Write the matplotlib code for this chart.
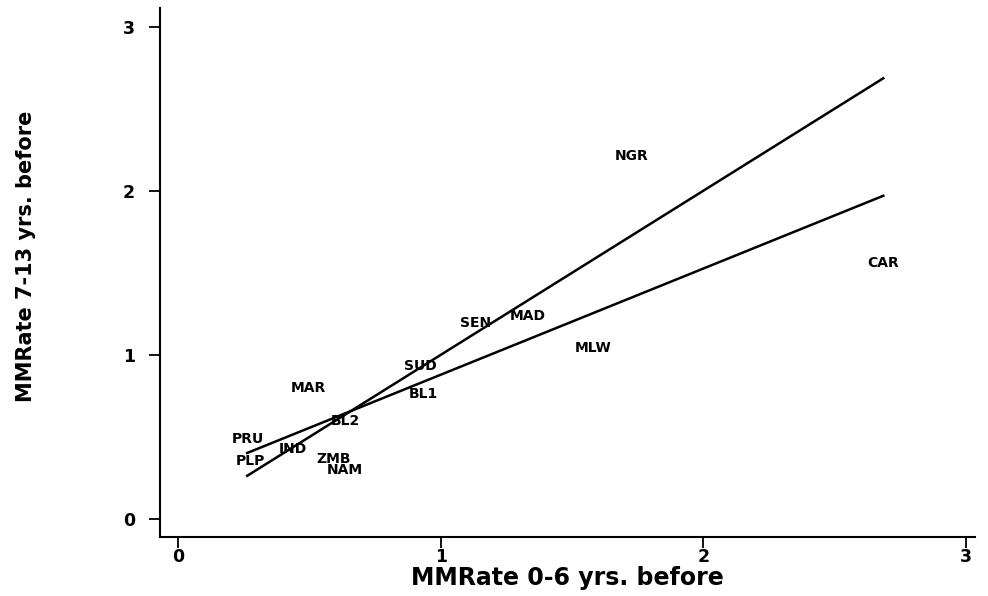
import numpy as np
import matplotlib
matplotlib.use("Agg")
import matplotlib.pyplot as plt

# Data: country codes, MMRate 0-6 yrs before (x), MMRate 7-13 yrs before (y)
countries = ["NGR", "CAR", "MLW", "MAD", "SEN", "SUD", "BL1", "MAR",
             "BL2", "PRU", "IND", "PLP", "ZMB", "NAM"]
mm_0_6 = [1.726, 2.686, 1.581, 1.333, 1.131, 0.922, 0.933, 0.495,
          0.636, 0.267, 0.438, 0.274, 0.594, 0.636]
mm_7_13 = [2.213, 1.561, 1.043, 1.238, 1.195, 0.933, 0.762, 0.799,
           0.598, 0.488, 0.427, 0.354, 0.366, 0.299]
# regression line
fit_intercept = 0.232
fit_slope = 0.647
x_ticks = [0, 1, 2, 3]
y_ticks = [0, 1, 2, 3]

x = np.array(mm_0_6)
y = np.array(mm_7_13)

fig = plt.figure(figsize=(9.88, 5.96), dpi=100)
ax = fig.add_axes([0.162, 0.099, 0.825, 0.888])

for c, xi, yi in zip(countries, x, y):
    ax.text(xi, yi, c, ha="center", va="center", fontsize=10,
            fontweight="bold", family="DejaVu Sans")

xr = np.array([x.min() - 0.004, x.max()])
# 45-degree line
ax.plot(xr, xr, color="black", lw=1.8)
# fitted line
ax.plot(xr, fit_intercept + fit_slope * xr, color="black", lw=1.8)

ax.set_xlim(-0.069, 3.036)
ax.set_ylim(-0.11, 3.116)
ax.set_xticks(x_ticks)
ax.set_yticks(y_ticks)
ax.spines["top"].set_visible(False)
ax.spines["right"].set_visible(False)
for s in ["left", "bottom"]:
    ax.spines[s].set_linewidth(1.5)
ax.tick_params(direction="out", length=8, width=1.3, labelsize=12.5)
for lab in ax.get_xticklabels() + ax.get_yticklabels():
    lab.set_fontweight("bold")
ax.tick_params(axis="y", pad=10)
ax.tick_params(axis="x", pad=0)

ax.set_xlabel("MMRate 0-6 yrs. before", fontsize=17, labelpad=0,
              family="DejaVu Sans", fontweight="bold")
ax.set_ylabel("MMRate 7-13 yrs. before", fontsize=15, labelpad=0,
              family="DejaVu Sans", fontweight="bold")
ax.yaxis.set_label_coords(-0.152, 0.53)

fig.savefig("out.png", dpi=100)
